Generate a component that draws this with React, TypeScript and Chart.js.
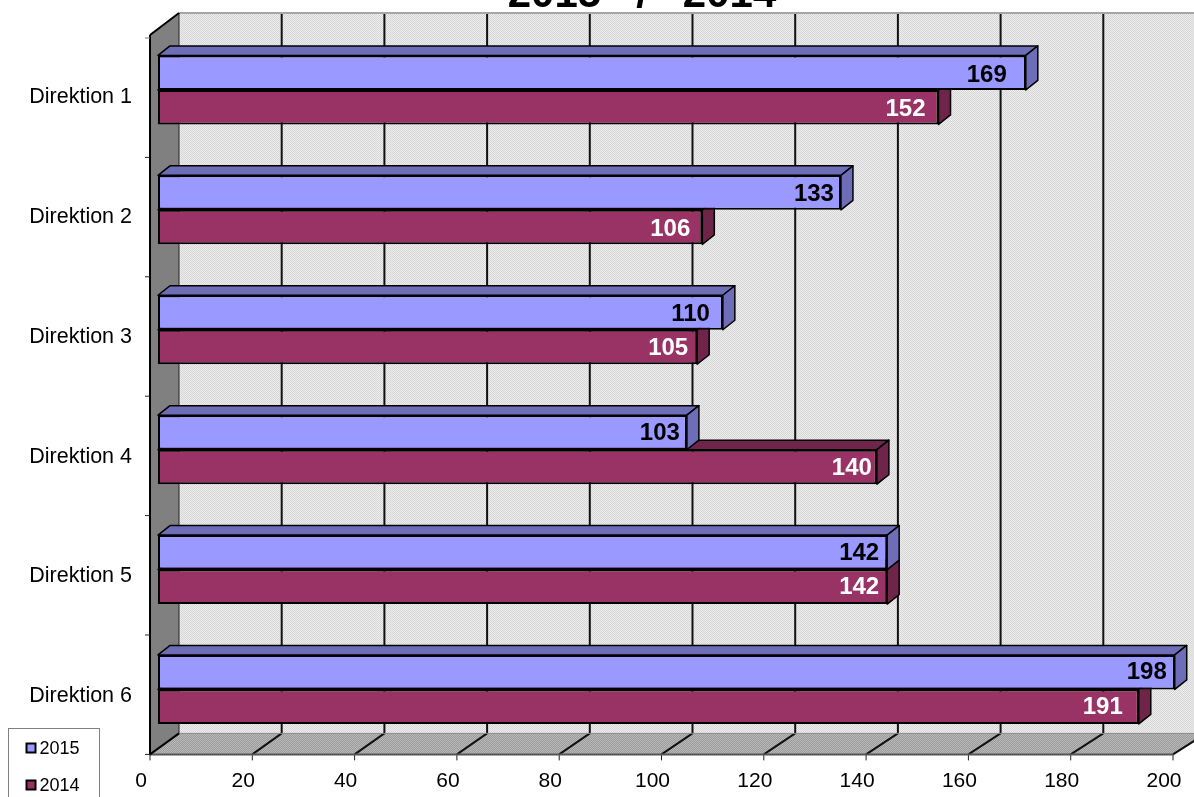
import React, { useEffect, useRef } from "react";
import { Chart, registerables } from "chart.js";

Chart.register(...registerables);

const categories = ["Direktion 1", "Direktion 2", "Direktion 3", "Direktion 4", "Direktion 5", "Direktion 6"];
const values2015 = [169, 133, 110, 103, 142, 198];
const values2014 = [152, 106, 105, 140, 142, 191];
const titleText = "2015   /   2014";
const gridValues = [0, 20, 40, 60, 80, 100, 120, 140, 160, 180, 200];

const FONT = '"Liberation Sans", Arial, sans-serif';
const BLUE = "#9999FF";
const BLUE_DARK = "#6E6EB8";
const PLUM = "#993366";
const PLUM_DARK = "#6F254A";
const DEPTH_X = 12;
const DEPTH_Y = -9.5;

// Small per-label placement of the value captions (distance from bar end).
const labelGaps = [
  [19, 7, 13, 7, 8, 8],
  [13, 12, 9, 5, 8, 16],
];

function dither(ctx: CanvasRenderingContext2D, a: string, b: string) {
  const c = document.createElement("canvas");
  c.width = 2;
  c.height = 2;
  const g = c.getContext("2d")!;
  g.fillStyle = a;
  g.fillRect(0, 0, 2, 2);
  g.fillStyle = b;
  g.fillRect(0, 0, 1, 1);
  g.fillRect(1, 1, 1, 1);
  return ctx.createPattern(c, "repeat")!;
}

function poly(ctx: CanvasRenderingContext2D, pts: number[][], fill?: any, stroke?: string, lw = 1) {
  ctx.beginPath();
  pts.forEach((p, i) => (i ? ctx.lineTo(p[0], p[1]) : ctx.moveTo(p[0], p[1])));
  ctx.closePath();
  if (fill) {
    ctx.fillStyle = fill;
    ctx.fill();
  }
  if (stroke) {
    ctx.strokeStyle = stroke;
    ctx.lineWidth = lw;
    ctx.lineJoin = "round";
    ctx.stroke();
  }
}

function line(ctx: CanvasRenderingContext2D, x1: number, y1: number, x2: number, y2: number, color: string, lw: number) {
  ctx.beginPath();
  ctx.moveTo(x1, y1);
  ctx.lineTo(x2, y2);
  ctx.strokeStyle = color;
  ctx.lineWidth = lw;
  ctx.stroke();
}

const frame3d = {
  id: "frame3d",
  beforeDatasetsDraw(chart: any) {
    const ctx: CanvasRenderingContext2D = chart.ctx;
    const { x, xFront } = chart.scales;
    const area = chart.chartArea;
    const front = (v: number) => xFront.getPixelForValue(v) - 8;
    const back = (v: number) => x.getPixelForValue(v) + 21;
    const wallTop = area.top - 17;
    const wallBottom = area.bottom - 16;
    const frontTop = area.top + 5;
    const frontBottom = area.bottom + 5;
    ctx.save();
    // back wall
    ctx.fillStyle = dither(ctx, "#EDEDED", "#D6D6D6");
    ctx.fillRect(back(0), wallTop, back(200) - back(0), wallBottom - wallTop);
    // floor
    poly(ctx, [[front(0), frontBottom], [back(0), wallBottom], [back(200), wallBottom], [front(200), frontBottom]], dither(ctx, "#9C9C9C", "#B8B8B8"));
    // side wall
    poly(ctx, [[front(0), frontTop], [back(0), wallTop], [back(0), wallBottom], [front(0), frontBottom]], "#808080");
    // grid
    gridValues.forEach((v) => {
      if (v > 0) {
        line(ctx, back(v), wallTop, back(v), wallBottom, "#111111", 2);
        line(ctx, front(v), frontBottom, back(v), wallBottom, "#111111", 2);
        line(ctx, front(v), frontBottom, front(v), frontBottom + 6, "#222222", 1);
      }
    });
    line(ctx, back(0), wallTop, back(200), wallTop, "#A6A6A6", 2);
    line(ctx, front(0), frontBottom, front(200), frontBottom, "#555555", 2);
    line(ctx, back(0), wallBottom, back(200), wallBottom, "#8A8A8A", 1);
    line(ctx, back(0), wallTop, back(0), wallBottom, "#222222", 1);
    line(ctx, front(0), frontTop, back(0), wallTop, "#000000", 2);
    line(ctx, front(0), frontTop, front(0), frontBottom, "#000000", 2);
    line(ctx, front(0), frontBottom, back(0), wallBottom, "#000000", 2);
    // category ticks
    const n = categories.length;
    for (let i = 0; i <= n; i++) {
      const y = frontTop + 3 + (i * (frontBottom - frontTop - 3)) / n;
      line(ctx, front(0) - 5, y, front(0), y, i === 0 ? "#777777" : "#222222", 1);
    }
    line(ctx, front(0), frontBottom, front(0), frontBottom + 6, "#222222", 1);
    // depth faces of the bars: rear series first
    [1, 0].forEach((ds) => {
      const meta = chart.getDatasetMeta(ds);
      const dark = ds === 0 ? BLUE_DARK : PLUM_DARK;
      meta.data.forEach((el: any) => {
        const t = el.y - el.height / 2;
        const b = el.y + el.height / 2;
        const l = el.base;
        const r = el.x;
        poly(ctx, [[l, t], [l + DEPTH_X, t + DEPTH_Y], [r + DEPTH_X, t + DEPTH_Y], [r, t]], dark, "#000000", 1.5);
        poly(ctx, [[r, t], [r + DEPTH_X, t + DEPTH_Y], [r + DEPTH_X, b + DEPTH_Y], [r, b]], dark, "#000000", 1.5);
      });
    });
    ctx.restore();
  },
  afterDatasetsDraw(chart: any) {
    const ctx: CanvasRenderingContext2D = chart.ctx;
    ctx.save();
    ctx.font = `bold 24px ${FONT}`;
    ctx.textAlign = "right";
    ctx.textBaseline = "middle";
    chart.data.datasets.forEach((ds: any, d: number) => {
      ctx.fillStyle = d === 0 ? "#000000" : "#FFFFFF";
      chart.getDatasetMeta(d).data.forEach((el: any, i: number) => {
        ctx.fillText(String(ds.data[i]), el.x - labelGaps[d][i], el.y + 2.5 - i * 0.45);
      });
    });
    ctx.restore();
  },
  afterDraw(chart: any) {
    const ctx: CanvasRenderingContext2D = chart.ctx;
    ctx.save();
    // title, cut by the top of the page as in the source
    ctx.font = `bold 42px ${FONT}`;
    ctx.fillStyle = "#000000";
    ctx.textAlign = "center";
    ctx.textBaseline = "alphabetic";
    ctx.fillText(titleText, 642, 7);
    // legend
    ctx.fillStyle = "#FFFFFF";
    ctx.fillRect(8.5, 728.5, 91, 80);
    ctx.strokeStyle = "#808080";
    ctx.lineWidth = 1;
    ctx.strokeRect(8.5, 728.5, 91, 80);
    ctx.font = `18px ${FONT}`;
    ctx.textAlign = "left";
    ctx.textBaseline = "middle";
    chart.data.datasets.forEach((ds: any, d: number) => {
      const cy = 748 + d * 37;
      ctx.fillStyle = ds.backgroundColor;
      ctx.fillRect(26.5, cy - 4.5, 9, 9);
      ctx.strokeStyle = "#000000";
      ctx.lineWidth = 2;
      ctx.strokeRect(26.5, cy - 4.5, 9, 9);
      ctx.fillStyle = "#000000";
      ctx.fillText(ds.label, 39.5, cy + 1);
    });
    ctx.restore();
  },
};

export default function App() {
  const ref = useRef<HTMLCanvasElement>(null);
  useEffect(() => {
    const chart = new Chart(ref.current!, {
      type: "bar",
      plugins: [frame3d],
      data: {
        labels: categories,
        datasets: [
          { label: "2015", data: values2015, backgroundColor: BLUE, borderColor: "#000000", borderWidth: 2, borderSkipped: false },
          { label: "2014", data: values2014, backgroundColor: PLUM, borderColor: "#000000", borderWidth: 2, borderSkipped: false },
        ],
      } as any,
      options: {
        indexAxis: "y",
        responsive: false,
        animation: false,
        layout: { padding: { top: 30, right: 9, left: 0, bottom: 0 } },
        datasets: { bar: { categoryPercentage: 0.5755, barPercentage: 1 } },
        plugins: { legend: { display: false }, title: { display: false }, tooltip: { enabled: false } },
        scales: {
          x: { type: "linear", display: false, min: 0, max: 200 },
          xFront: {
            type: "linear",
            position: "bottom",
            min: 0,
            max: 200.78,
            grid: { display: false, drawTicks: false },
            border: { display: false },
            afterFit: (s: any) => {
              s.height = 47.6;
              s.paddingLeft = 0;
              s.paddingRight = 0;
            },
            ticks: {
              stepSize: 20,
              includeBounds: false,
              labelOffset: -17,
              padding: 19,
              maxRotation: 0,
              autoSkip: false,
              color: "#000000",
              font: { family: FONT, size: 21 },
            },
          },
          y: {
            type: "category",
            grid: { display: false, drawTicks: false },
            border: { display: false },
            afterFit: (s: any) => {
              s.width = 158;
              s.paddingTop = 0;
              s.paddingBottom = 0;
            },
            ticks: {
              padding: 26,
              labelOffset: 7,
              color: "#000000",
              font: { family: FONT, size: 21.5 },
            },
          },
        },
      } as any,
    });
    return () => chart.destroy();
  }, []);
  return (
    <div style={{ position: "fixed", left: 0, top: 0, width: 1194, height: 797, overflow: "hidden", background: "#FFFFFF" }}>
      <canvas ref={ref} width={1194} height={797} style={{ display: "block" }} />
    </div>
  );
}
